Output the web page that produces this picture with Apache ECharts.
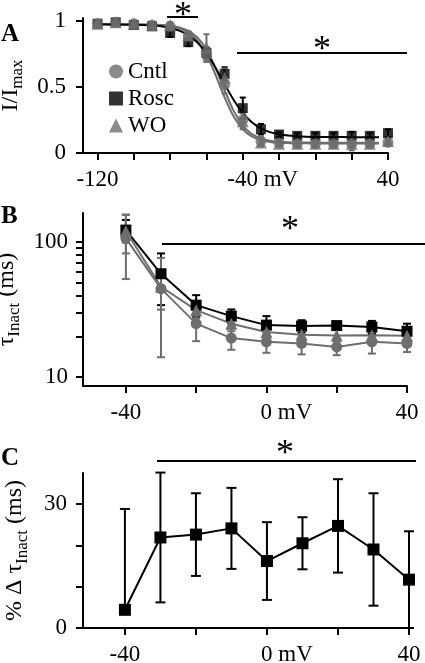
<!DOCTYPE html>
<html><head><meta charset="utf-8">
<script src="https://cdn.jsdelivr.net/npm/echarts@6/dist/echarts.min.js"></script>
<style>html,body{margin:0;padding:0;background:#fff;}#c{width:425px;height:663px;}</style>
</head><body><div id="c"></div>
<script>
const FONT = "'Liberation Serif','Times New Roman',serif";
const GRAY = '#6e6e6e';
const BLACK = '#000';

// ---------- Panel A: steady-state inactivation ----------
const voltsA = [-120,-110,-100,-90,-80,-70,-60,-50,-40,-30,-20,-10,0,10,20,30,40];
const cntlA  = [0.98,0.99,0.98,0.97,0.96,0.89,0.74,0.52,0.25,0.09,0.075,0.07,0.07,0.07,0.07,0.07,0.08];
const cntlAErr = [0.02,0.02,0.02,0.02,0.02,0.03,0.05,0.07,0.06,0.03,0.02,0.02,0.02,0.02,0.02,0.02,0.02];
const roscA  = [0.98,0.99,0.97,0.96,0.91,0.84,0.76,0.60,0.34,0.18,0.14,0.13,0.13,0.13,0.13,0.13,0.15];
const roscAErr = [0.02,0.02,0.02,0.02,0.03,0.03,0.04,0.05,0.08,0.04,0.02,0.02,0.02,0.02,0.03,0.02,0.03];
const woA    = [0.98,0.99,0.98,0.97,0.97,0.89,0.80,0.57,0.24,0.08,0.07,0.07,0.07,0.07,0.07,0.07,0.09];
const woAErr = [0.02,0.02,0.02,0.02,0.02,0.03,0.10,0.07,0.06,0.03,0.02,0.02,0.02,0.02,0.05,0.02,0.02];
// fitted curves
const fitV    = [-120,-110,-100,-90,-85,-80,-75,-70,-65,-60,-55,-50,-45,-40,-35,-30,-25,-20,-15,-10,-5,0,10,20,35];
const fitRosc = [0.975,0.974,0.972,0.966,0.960,0.947,0.927,0.892,0.837,0.755,0.646,0.522,0.402,0.304,0.233,0.187,0.158,0.142,0.132,0.127,0.124,0.122,0.121,0.120,0.120];
const fitCntl = [0.975,0.975,0.974,0.972,0.968,0.961,0.945,0.913,0.852,0.745,0.592,0.421,0.276,0.180,0.125,0.098,0.084,0.078,0.075,0.073,0.073,0.072,0.072,0.072,0.072];
const fitWO   = [0.975,0.975,0.974,0.973,0.970,0.964,0.951,0.926,0.875,0.784,0.644,0.475,0.319,0.209,0.143,0.110,0.093,0.085,0.081,0.080,0.079,0.079,0.078,0.078,0.078];
const ticksAx = [-120,-100,-80,-60,-40,-20,0,20,40];
const labelsAx = [-120,-40,40];
const ticksAy = [0,0.5,1];

// ---------- Panel B: tau inact (log) ----------
const voltsB = [-40,-30,-20,-10,0,10,20,30,40];
const cntlB = [106,45,24.8,19.4,18.2,17.7,16.7,18.2,17.7];
const cntlBErr = [53,31,6.4,3.5,3.1,3,2.2,3.3,2.4];
const roscB = [122,58,34,28.2,24.2,23.8,24,23.4,21.8];
const roscBErr = [23,24,6.3,3.4,4,2.5,1.5,2.6,3];
const woB = [120,46.5,31.2,24.8,21.5,20.5,20.3,20.4,20.2];
const woBErr = [38,15,4,3,2.5,2.5,2,2.5,2];
const ticksBx = [-40,-20,0,20,40];
const labelsBx = [-40,0,40];
const ticksBy = [10,20,30,40,50,60,70,80,90,100];
const labelsBy = [10,100];

// ---------- Panel C: % change ----------
const voltsC = [-40,-30,-20,-10,0,10,20,30,40];
const pctC = [4.4,21.9,22.6,24.1,16.2,20.5,24.7,19,11.7];
const pctCUp = [24.4,15.7,10,9.8,9.4,6.3,11.3,13.6,11.7];
const pctCDown = [0,15.7,10,9.8,9.4,6.3,11.3,13.6,11.7];
const ticksCy = [0,10,20,30];
const labelsCy = [0,30];

function pairs(xs, ys) { return xs.map((x, i) => [x, ys[i]]); }
function triples(xs, ys, up, down) { return xs.map((x, i) => [x, ys[i], up[i], down ? down[i] : up[i]]); }

function errRender(color, capW, logMin) {
  return function (params, api) {
    const x = api.value(0), y = api.value(1), eu = api.value(2), ed = api.value(3);
    const c = api.coord([x, y]);
    const children = [];
    const st = { stroke: color, lineWidth: 2 };
    if (eu > 0) {
      const hi = api.coord([x, y + eu]);
      children.push({ type: 'line', shape: { x1: c[0], y1: c[1], x2: hi[0], y2: hi[1] }, style: st });
      children.push({ type: 'line', shape: { x1: hi[0] - capW / 2, y1: hi[1], x2: hi[0] + capW / 2, y2: hi[1] }, style: st });
    }
    if (ed > 0) {
      let lv = y - ed;
      if (logMin !== undefined && lv <= logMin) lv = logMin;
      const lo = api.coord([x, lv]);
      children.push({ type: 'line', shape: { x1: c[0], y1: c[1], x2: lo[0], y2: lo[1] }, style: st });
      children.push({ type: 'line', shape: { x1: lo[0] - capW / 2, y1: lo[1], x2: lo[0] + capW / 2, y2: lo[1] }, style: st });
    }
    return { type: 'group', children: children };
  };
}

const axisLineStyle = { show: true, onZero: false, lineStyle: { color: BLACK, width: 2 } };
const tickStyle = { show: true, inside: false, length: 7, lineStyle: { color: BLACK, width: 2 } };
const labelFont = { fontFamily: FONT, fontSize: 23, color: BLACK };
const mvRich = { p: { width: 40 } };

const nameRich = {
  m: { fontFamily: FONT, fontSize: 24, color: BLACK, verticalAlign: 'bottom', padding: [0, 0, 4, 0] },
  s: { fontFamily: FONT, fontSize: 17, color: BLACK, verticalAlign: 'bottom' }
};
const starFont = '36px ' + FONT;

const chart = echarts.init(document.getElementById('c'), null, { renderer: 'canvas' });
chart.setOption({
  animation: false,
  backgroundColor: '#fff',
  grid: [
    { left: 83, right: 37, top: 18, bottom: 510, containLabel: false, outerBoundsMode: 'none' },
    { left: 83, right: 18, top: 213, bottom: 277, containLabel: false, outerBoundsMode: 'none' },
    { left: 83, right: 16, top: 473, bottom: 35, containLabel: false, outerBoundsMode: 'none' }
  ],
  legend: {
    orient: 'vertical', left: 104, top: 55, itemGap: 4, itemWidth: 14, itemHeight: 14,
    textStyle: { fontFamily: FONT, fontSize: 23, color: BLACK },
    data: [{ name: 'Cntl', icon: 'circle' }, { name: 'Rosc', icon: 'rect' }, { name: 'WO', icon: 'triangle' }]
  },
  xAxis: [
    {
      gridIndex: 0, type: 'value', min: -128, max: 40, splitLine: { show: false },
      axisLine: axisLineStyle, axisTick: Object.assign({ customValues: ticksAx }, tickStyle),
      axisLabel: Object.assign({ customValues: labelsAx, margin: 15, rich: mvRich,
        formatter: v => v === -40 ? '{p|}-40 mV' : String(v) }, labelFont)
    },
    {
      gridIndex: 1, type: 'value', min: -52.2, max: 40, splitLine: { show: false },
      axisLine: axisLineStyle, axisTick: Object.assign({ customValues: ticksBx }, tickStyle),
      axisLabel: Object.assign({ customValues: labelsBx, margin: 15, rich: mvRich,
        formatter: v => v === 0 ? '{p|}0 mV' : String(v) }, labelFont)
    },
    {
      gridIndex: 2, type: 'value', min: -51.8, max: 40, splitLine: { show: false },
      axisLine: axisLineStyle, axisTick: Object.assign({ customValues: ticksBx }, tickStyle),
      axisLabel: Object.assign({ customValues: labelsBx, margin: 15, rich: mvRich,
        formatter: v => v === 0 ? '{p|}0 mV' : String(v) }, labelFont)
    }
  ],
  yAxis: [
    {
      gridIndex: 0, type: 'value', min: 0, max: 1.023, splitLine: { show: false },
      axisLine: axisLineStyle, axisTick: Object.assign({ customValues: ticksAy }, tickStyle),
      axisLabel: Object.assign({ customValues: ticksAy, margin: 17, formatter: v => String(v) }, labelFont),
      name: '{m|I/I}{s|max}', nameLocation: 'middle', nameGap: 52, nameTextStyle: { rich: nameRich }
    },
    {
      gridIndex: 1, type: 'log', min: 8.58, max: 163.2, splitLine: { show: false },
      axisLine: axisLineStyle, axisTick: Object.assign({ customValues: ticksBy }, tickStyle),
      axisLabel: Object.assign({ customValues: labelsBy, margin: 15, formatter: v => String(Math.round(v)) }, labelFont),
      name: '{m|τ}{s|Inact}{m| (ms)}', nameLocation: 'middle', nameGap: 52, nameTextStyle: { rich: nameRich }
    },
    {
      gridIndex: 2, type: 'value', min: 0, max: 37.5, splitLine: { show: false },
      axisLine: axisLineStyle, axisTick: Object.assign({ customValues: ticksCy }, tickStyle),
      axisLabel: Object.assign({ customValues: labelsCy, margin: 16, formatter: v => String(v) }, labelFont),
      name: '{m|% Δ τ}{s|Inact}{m| (ms)}', nameLocation: 'middle', nameGap: 52, nameTextStyle: { rich: nameRich }
    }
  ],
  graphic: [
    { type: 'text', left: 1, top: 22, style: { text: 'A', font: 'bold 25px ' + FONT, fill: BLACK } },
    { type: 'text', left: 1, top: 204, style: { text: 'B', font: 'bold 25px ' + FONT, fill: BLACK } },
    { type: 'text', left: 1, top: 446, style: { text: 'C', font: 'bold 25px ' + FONT, fill: BLACK } },
    { type: 'line', shape: { x1: 167, y1: 17, x2: 198, y2: 17 }, style: { stroke: BLACK, lineWidth: 2 } },
    { type: 'text', x: 183, y: 17, style: { text: '*', font: starFont, fill: BLACK, textAlign: 'center', textVerticalAlign: 'middle' } },
    { type: 'line', shape: { x1: 237, y1: 53, x2: 407, y2: 53 }, style: { stroke: BLACK, lineWidth: 2 } },
    { type: 'text', x: 322, y: 51, style: { text: '*', font: starFont, fill: BLACK, textAlign: 'center', textVerticalAlign: 'middle' } },
    { type: 'line', shape: { x1: 162, y1: 244, x2: 425, y2: 244 }, style: { stroke: BLACK, lineWidth: 2 } },
    { type: 'text', x: 290, y: 231, style: { text: '*', font: starFont, fill: BLACK, textAlign: 'center', textVerticalAlign: 'middle' } },
    { type: 'line', shape: { x1: 157, y1: 461, x2: 416, y2: 461 }, style: { stroke: BLACK, lineWidth: 2 } },
    { type: 'text', x: 285, y: 455, style: { text: '*', font: starFont, fill: BLACK, textAlign: 'center', textVerticalAlign: 'middle' } }
  ],
  series: [
    // Panel A fits
    { type: 'line', name: 'fitCntl', xAxisIndex: 0, yAxisIndex: 0, data: pairs(fitV, fitCntl), smooth: 0.3, showSymbol: false, symbol: 'none', lineStyle: { color: GRAY, width: 2 }, z: 2 },
    { type: 'line', name: 'fitWO', xAxisIndex: 0, yAxisIndex: 0, data: pairs(fitV, fitWO), smooth: 0.3, showSymbol: false, symbol: 'none', lineStyle: { color: GRAY, width: 2 }, z: 2 },
    { type: 'line', name: 'fitRosc', xAxisIndex: 0, yAxisIndex: 0, data: pairs(fitV, fitRosc), smooth: 0.3, showSymbol: false, symbol: 'none', lineStyle: { color: BLACK, width: 2 }, z: 2 },
    // Panel A error bars
    { type: 'custom', xAxisIndex: 0, yAxisIndex: 0, data: triples(voltsA, roscA, roscAErr), renderItem: errRender(BLACK, 6), z: 3 },
    { type: 'custom', xAxisIndex: 0, yAxisIndex: 0, data: triples(voltsA, cntlA, cntlAErr), renderItem: errRender(GRAY, 6), z: 3 },
    { type: 'custom', xAxisIndex: 0, yAxisIndex: 0, data: triples(voltsA, woA, woAErr), renderItem: errRender(GRAY, 6), z: 3 },
    // Panel A markers
    { type: 'scatter', name: 'Rosc', xAxisIndex: 0, yAxisIndex: 0, data: pairs(voltsA, roscA), symbol: 'rect', symbolSize: 10, itemStyle: { color: BLACK }, z: 4 },
    { type: 'scatter', name: 'Cntl', xAxisIndex: 0, yAxisIndex: 0, data: pairs(voltsA, cntlA), symbol: 'circle', symbolSize: 11, itemStyle: { color: GRAY }, z: 4 },
    { type: 'scatter', name: 'WO', xAxisIndex: 0, yAxisIndex: 0, data: pairs(voltsA, woA), symbol: 'triangle', symbolSize: 12, itemStyle: { color: GRAY }, z: 4 },
    // Panel B error bars
    { type: 'custom', xAxisIndex: 1, yAxisIndex: 1, data: triples(voltsB, roscB, roscBErr), renderItem: errRender(BLACK, 8, 9), z: 3 },
    { type: 'custom', xAxisIndex: 1, yAxisIndex: 1, data: triples(voltsB, cntlB, cntlBErr), renderItem: errRender(GRAY, 8, 9), z: 3 },
    { type: 'custom', xAxisIndex: 1, yAxisIndex: 1, data: triples(voltsB, woB, woBErr), renderItem: errRender(GRAY, 8, 9), z: 3 },
    // Panel B lines
    { type: 'line', name: 'Rosc B', xAxisIndex: 1, yAxisIndex: 1, data: pairs(voltsB, roscB), symbol: 'rect', symbolSize: 11, showAllSymbol: true, itemStyle: { color: BLACK }, lineStyle: { color: BLACK, width: 2 }, z: 4 },
    { type: 'line', name: 'Cntl B', xAxisIndex: 1, yAxisIndex: 1, data: pairs(voltsB, cntlB), symbol: 'circle', symbolSize: 11, showAllSymbol: true, itemStyle: { color: GRAY }, lineStyle: { color: GRAY, width: 2 }, z: 4 },
    { type: 'line', name: 'WO B', xAxisIndex: 1, yAxisIndex: 1, data: pairs(voltsB, woB), symbol: 'triangle', symbolSize: 12, showAllSymbol: true, itemStyle: { color: GRAY }, lineStyle: { color: GRAY, width: 2 }, z: 4 },
    // Panel C
    { type: 'custom', xAxisIndex: 2, yAxisIndex: 2, data: triples(voltsC, pctC, pctCUp, pctCDown), renderItem: errRender(BLACK, 10), z: 3 },
    { type: 'line', name: 'pct', xAxisIndex: 2, yAxisIndex: 2, data: pairs(voltsC, pctC), symbol: 'rect', symbolSize: 12, showAllSymbol: true, itemStyle: { color: BLACK }, lineStyle: { color: BLACK, width: 2 }, z: 4 }
  ]
});
</script></body></html>
